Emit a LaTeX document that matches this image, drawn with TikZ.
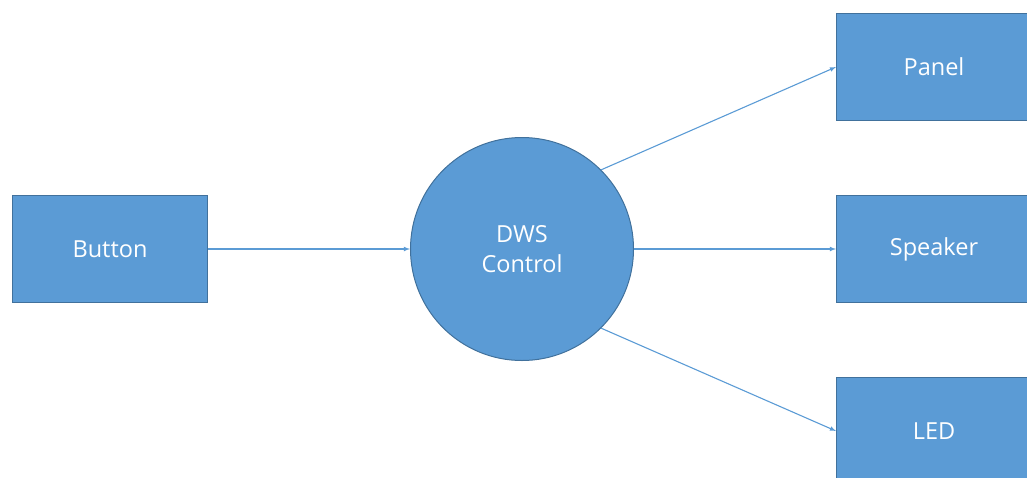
\documentclass[tikz,border=0pt]{standalone}
\usepackage{fontspec}
\setmainfont{Open Sans}
\usepackage{xcolor}
\usetikzlibrary{arrows,positioning}
\definecolor{boxblue}{HTML}{5B9BD5}
\definecolor{edgeblue}{HTML}{41719C}
\tikzset{
	block/.style={draw=edgeblue,line width=1pt,fill=boxblue,text=white,minimum width=195pt,minimum height=107pt,inner sep=0pt,font=\fontsize{23.5}{30}\selectfont},
	ctrl/.style={circle,draw=edgeblue,line width=1pt,fill=boxblue,text=white,minimum size=223pt,inner sep=0pt,align=center,font=\fontsize{23.5}{30}\selectfont},
	link/.style={-latex,boxblue,line width=1.1pt}
}
\begin{document}
\begin{tikzpicture}[x=1pt,y=-1pt]
	\useasboundingbox (0,0) rectangle (1027,477);
	\clip (0,0) rectangle (1027,477);
	\node[block] (button) at (110,249) {Button};
	\node[ctrl] (dws) at (522,249) {DWS\\Control};
	\node[block] (panel) at (934,67) {Panel};
	\node[block] (speaker) at (934,249) {Speaker};
	\node[block] (led) at (934,431) {LED};
	
	\draw[link] (button) -- (dws);
	\draw[link] (dws.45) -- (panel.west);
	\draw[link] (dws) -- (speaker);
	\draw[link] (dws.-45) -- (led.west);
\end{tikzpicture}
\end{document}
